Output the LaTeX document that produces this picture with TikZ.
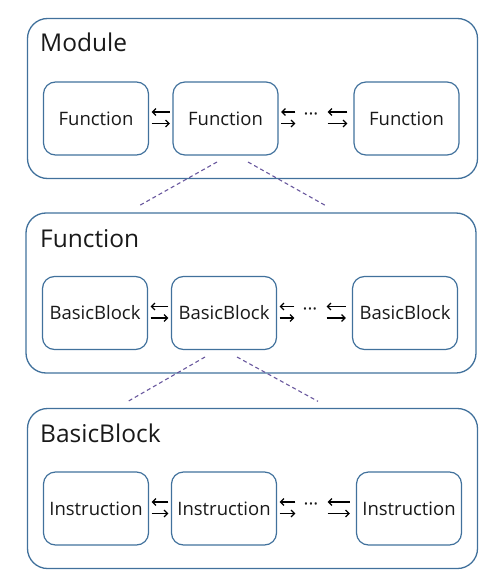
\documentclass[tikz,border=0pt]{standalone}
\usepackage{fontspec}
\setmainfont{Open Sans}
\usepackage{xcolor}
\usepackage{tikz}
\usetikzlibrary{positioning, arrows.meta}
\definecolor{boxblue}{RGB}{65,113,156}
\definecolor{zoompurple}{RGB}{105,88,158}
\definecolor{textgray}{RGB}{25,25,25}

\begin{document}
\begin{tikzpicture}[x=1pt,y=-1pt]
	\tikzstyle{layer}=[draw=boxblue,line width=1.3pt,rounded corners=20pt,minimum width=450pt,minimum height=160pt]
	\tikzstyle{unit}=[draw=boxblue,line width=1.2pt,rounded corners=12pt,minimum width=105pt,minimum height=73pt,inner sep=1pt,text=textgray,font=\fontsize{18.5}{20}\selectfont]
	\tikzstyle{title}=[anchor=base west,inner sep=0pt,text=textgray,font=\fontsize{24.5}{26}\selectfont]
	\tikzstyle{more}=[inner sep=0pt,text=textgray,font=\fontsize{18.5}{20}\selectfont]
	\tikzstyle{link}=[-{Straight Barb[length=3.5pt,width=7pt]},line width=1.2pt,shorten <=2.5pt,shorten >=2.5pt]
	\tikzstyle{zoomline}=[draw=zoompurple,line width=1.1pt,dash pattern=on 4pt off 3pt]
	\useasboundingbox (0,0) rectangle (491,588);

	% Module
	\node[layer](module) at (252.5,98.5){};
	\node[title](moduletitle) at (40,52){Module};
	\node[unit](f1) at (96,118.5){Function};
	\node[unit](f2) at (225.5,118.5){Function};
	\node[unit](f3) at (406.5,118.5){Function};
	\node[more](fdots) at (311,117){···};
	\path[link]
		([yshift=6.5pt]f2.west) edge ([yshift=6.5pt]f1.east)
		([yshift=-5pt]f1.east) edge ([yshift=-5pt]f2.west)
		([yshift=5pt]fdots.west) edge[shorten <=8pt] ([yshift=6.5pt]f2.east)
		([yshift=-5pt]f2.east) edge[shorten >=8pt] ([yshift=-6.5pt]fdots.west)
		([yshift=6.5pt]f3.west) edge[shorten <=6pt,shorten >=9pt] ([yshift=5pt]fdots.east)
		([yshift=-6.5pt]fdots.east) edge[shorten <=9pt,shorten >=6pt] ([yshift=-5pt]f3.west);

	% Function
	\node[layer](function) at (251,293){};
	\node[title](functiontitle) at (40,247){Function};
	\node[unit](b1) at (95,313){BasicBlock};
	\node[unit](b2) at (224,313){BasicBlock};
	\node[unit](b3) at (405,313){BasicBlock};
	\node[more](bdots) at (310,311.5){···};
	\path[link]
		([yshift=6.5pt]b2.west) edge ([yshift=6.5pt]b1.east)
		([yshift=-5pt]b1.east) edge ([yshift=-5pt]b2.west)
		([yshift=5pt]bdots.west) edge[shorten <=8pt] ([yshift=6.5pt]b2.east)
		([yshift=-5pt]b2.east) edge[shorten >=8pt] ([yshift=-6.5pt]bdots.west)
		([yshift=6.5pt]b3.west) edge[shorten <=6pt,shorten >=9pt] ([yshift=5pt]bdots.east)
		([yshift=-6.5pt]bdots.east) edge[shorten <=9pt,shorten >=6pt] ([yshift=-5pt]b3.west);

	% BasicBlock
	\node[layer](basicblock) at (252.5,488.5){};
	\node[title](basicblocktitle) at (40,442){BasicBlock};
	\node[unit](i1) at (96,508.5){Instruction};
	\node[unit](i2) at (224,508.5){Instruction};
	\node[unit](i3) at (409,508.5){Instruction};
	\node[more](idots) at (311,507){···};
	\path[link]
		([yshift=6.5pt]i2.west) edge ([yshift=6.5pt]i1.east)
		([yshift=-5pt]i1.east) edge ([yshift=-5pt]i2.west)
		([yshift=5pt]idots.west) edge[shorten <=8pt] ([yshift=6.5pt]i2.east)
		([yshift=-5pt]i2.east) edge[shorten >=8pt] ([yshift=-6.5pt]idots.west)
		([yshift=6.5pt]i3.west) edge[shorten <=6pt,shorten >=9pt] ([yshift=5pt]idots.east)
		([yshift=-6.5pt]idots.east) edge[shorten <=9pt,shorten >=6pt] ([yshift=-5pt]i3.west);

	% zoom lines
	\coordinate(fzl) at (217,162);
	\coordinate(fzr) at (248,162);
	\coordinate(bzl) at (205,357);
	\coordinate(bzr) at (237,357);
	\draw[zoomline] (fzl) -- ([xshift=-113pt,yshift=6pt]function.north);
	\draw[zoomline] (fzr) -- ([xshift=76pt,yshift=6pt]function.north);
	\draw[zoomline] (bzl) -- ([xshift=-124.5pt,yshift=6.5pt]basicblock.north);
	\draw[zoomline] (bzr) -- ([xshift=65.5pt,yshift=6.5pt]basicblock.north);
\end{tikzpicture}
\end{document}
